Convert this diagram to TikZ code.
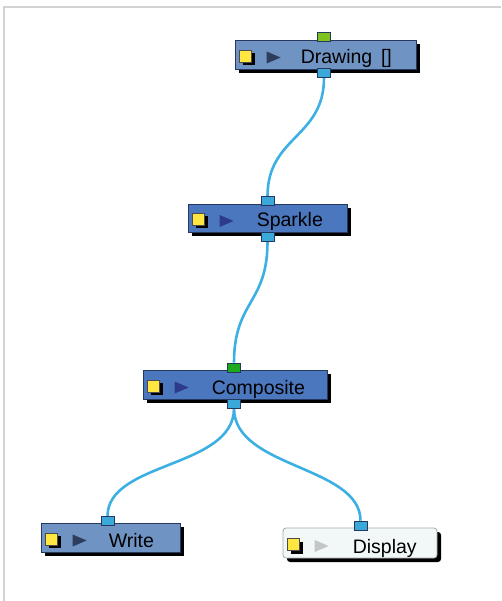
\documentclass[tikz,border=0pt]{standalone}
\usepackage{fontspec}
\setmainfont{Liberation Sans}
\usetikzlibrary{shadows}

\definecolor{framegray}{HTML}{D3D3D3}
\definecolor{boxlight}{HTML}{6F93C2}
\definecolor{boxdark}{HTML}{4A77BE}
\definecolor{boxpale}{HTML}{F2F8F8}
\definecolor{boxline}{HTML}{26385E}
\definecolor{wireblue}{HTML}{3CB0E2}
\definecolor{portblue}{HTML}{3AA9DA}
\definecolor{portlime}{HTML}{7DC21F}
\definecolor{portgreen}{HTML}{1EAA1E}
\definecolor{iconyellow}{HTML}{FFE640}
\definecolor{trislate}{HTML}{2F3D5C}
\definecolor{trinavy}{HTML}{2E3B8A}
\definecolor{trigray}{HTML}{C2C6C6}

\begin{document}
\begin{tikzpicture}[x=1pt,y=-1pt,
  box/.style={draw=boxline, line width=0.8pt, inner sep=0pt,
    drop shadow={shadow xshift=4pt, shadow yshift=-4pt, fill=black, opacity=1}},
  port/.style={draw=boxline, line width=0.6pt, minimum width=13pt,
    minimum height=9pt, inner sep=0pt},
  wire/.style={draw=wireblue, line width=2.6pt},
  nodetext/.style={font=\fontsize{19.5}{22}\selectfont, inner sep=0pt, anchor=base west}]
\useasboundingbox (0,0) rectangle (501,601);
\draw[framegray, line width=2.5pt] (4,601) -- (4,7) -- (501,7);

% ports
\begin{scope}[every node/.style={port, fill=portblue}]
  \node[fill=portlime] (draw-in) at (324,37) {};
  \node (draw-out) at (324,73) {};
  \node (spark-in) at (267.5,201) {};
  \node (spark-out) at (267.5,237) {};
  \node[fill=portgreen] (comp-in) at (234,367.5) {};
  \node (comp-out) at (234,403.5) {};
  \node (write-in) at (107.5,521) {};
  \node (disp-in) at (360.5,525.5) {};
\end{scope}

% wires
\path[wire] (draw-out.south) .. controls +(0,60) and +(0,-60) .. (spark-in.north);
\path[wire] (spark-out.south) .. controls +(0,62) and +(0,-62) .. (comp-in.north);
\path[wire] (comp-out.south) .. controls +(0,60) and +(0,-55) .. (write-in.north);
\path[wire] (comp-out.south) .. controls +(0,60) and +(0,-55) .. (disp-in.north);

% boxes
\node[box, fill=boxlight, minimum width=181pt, minimum height=29pt] (draw) at (325.5,54.5) {};
\node[box, fill=boxdark, minimum width=159pt, minimum height=28pt] (spark) at (267.5,218) {};
\node[box, fill=boxdark, minimum width=184pt, minimum height=29pt] (comp) at (235,384.5) {};
\node[box, fill=boxlight, minimum width=139pt, minimum height=29pt] (write) at (110.5,537.5) {};
\node[box, fill=boxpale, draw=gray!70, rounded corners=3pt, minimum width=154pt,
  minimum height=30pt] (disp) at (360,543) {};

% ports again on top of boxes
\begin{scope}[every node/.style={port, fill=portblue}]
  \node[fill=portlime] at (draw-in) {};
  \node at (draw-out) {};
  \node at (spark-in) {};
  \node at (spark-out) {};
  \node[fill=portgreen] at (comp-in) {};
  \node at (comp-out) {};
  \node at (write-in) {};
  \node at (disp-in) {};
\end{scope}

% icons
\foreach \n/\tri in {draw/trislate, spark/trinavy, comp/trinavy, write/trislate, disp/trigray} {
  \fill[black] ([xshift=8pt,yshift=1.5pt]\n.west) rectangle +(12,12);
  \filldraw[fill=iconyellow, draw=black!70, line width=0.4pt]
    ([xshift=5pt,yshift=4.5pt]\n.west) rectangle +(12,12);
  \fill[\tri] ([xshift=32pt,yshift=3pt]\n.west) -- ++(0,12) -- ++(14,-6) -- cycle;
}

% labels
\node[nodetext] (draw-text) at ([xshift=66pt,yshift=-9.5pt]draw.west) {Drawing\hspace{0.45em}[]};
\node[nodetext] (spark-text) at ([xshift=69pt,yshift=-9pt]spark.west) {Sparkle};
\node[nodetext] (comp-text) at ([xshift=69pt,yshift=-9.5pt]comp.west) {Composite};
\node[nodetext] (write-text) at ([xshift=68pt,yshift=-9.5pt]write.west) {Write};
\node[nodetext] (disp-text) at ([xshift=70pt,yshift=-10pt]disp.west) {Display};
\end{tikzpicture}
\end{document}
